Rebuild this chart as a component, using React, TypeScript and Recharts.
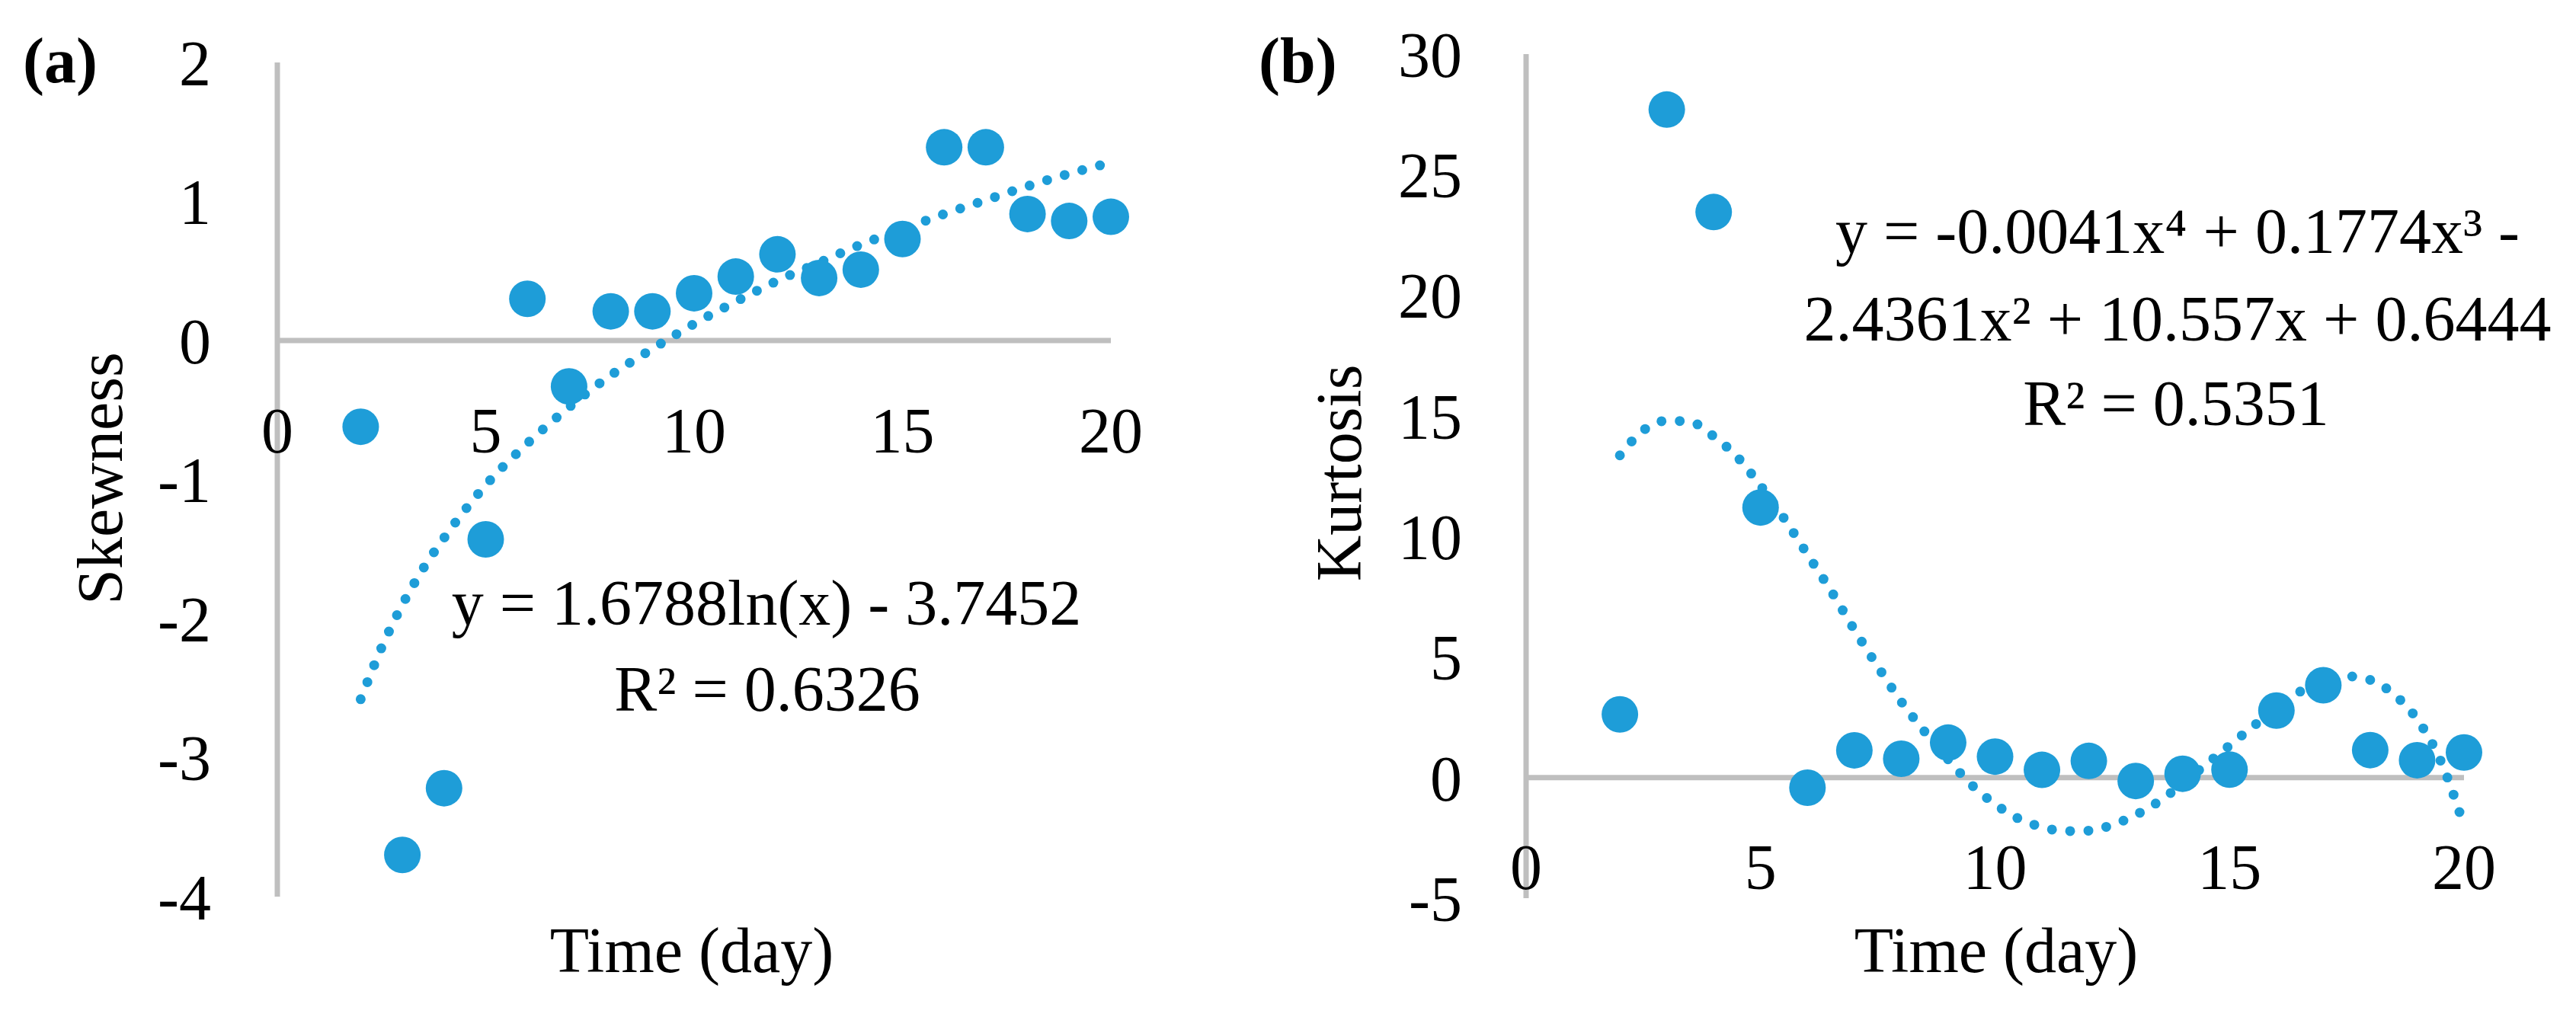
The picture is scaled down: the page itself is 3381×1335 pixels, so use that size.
import React from 'react';
import { ComposedChart, Scatter, Line, XAxis, YAxis, ReferenceLine } from 'recharts';

// measured days (x) shared by both panels
const days = [2, 3, 4, 5, 6, 7, 8, 9, 10, 11, 12, 13, 14, 15, 16, 17, 18, 19, 20];

// panel (a) skewness values
const skewness = [-0.62, -3.7, -3.22, -1.43, 0.3, -0.33, 0.21, 0.21, 0.34, 0.46, 0.62, 0.45, 0.51, 0.73, 1.39, 1.39, 0.91, 0.86, 0.89];

// panel (b) kurtosis values
const kurtosis = [2.62, 27.7, 23.45, 11.2, -0.42, 1.13, 0.78, 1.45, 0.87, 0.32, 0.69, -0.14, 0.16, 0.33, 2.78, 3.83, 1.14, 0.72, 1.04];

// dotted trend lines
const skewTrendX = [2, 2.5, 3, 3.5, 4, 4.5, 5, 6, 7, 8, 9, 10, 11, 12, 13, 14, 15, 16, 17, 18, 19, 20];
const skewTrendY = [-2.58, -2.21, -1.9, -1.64, -1.42, -1.22, -1.04, -0.74, -0.48, -0.25, -0.06, 0.12, 0.28, 0.43, 0.56, 0.69, 0.8, 0.91, 1.01, 1.11, 1.2, 1.28];

const kurtTrendX = [2, 2.5, 3, 3.5, 4, 4.5, 5, 5.5, 6, 6.5, 7, 7.5, 8, 8.5, 9, 9.5, 10, 10.5, 11, 11.5, 12, 12.5, 13, 13.5, 14, 14.5, 15, 15.5, 16, 16.5, 17, 17.5, 18, 18.5, 19, 19.5, 20];
const kurtTrendY = [13.36, 14.4, 14.8, 14.75, 14.15, 13.3, 12.1, 10.75, 9.25, 7.75, 6.13, 4.6, 3.15, 1.9, 0.75, -0.3, -1.1, -1.7, -2.05, -2.22, -2.2, -1.96, -1.55, -0.98, -0.25, 0.55, 1.33, 2.12, 2.85, 3.56, 3.98, 4.2, 4.05, 3.46, 2.42, 0.7, -2.0];

const xTicks = [0, 5, 10, 15, 20];
const skewTicks = [-4, -3, -2, -1, 0, 1, 2];
const kurtTicks = [-5, 0, 5, 10, 15, 20, 25, 30];

const FONT = "'Liberation Serif', 'Times New Roman', serif";
const FS = 84;
const BLUE = '#1E9DD8';
const GREY = '#BFBFBF';

const skewPoints = days.map((d, i) => ({ x: d, y: skewness[i] }));
const kurtPoints = days.map((d, i) => ({ x: d, y: kurtosis[i] }));
const skewTrend = skewTrendX.map((d, i) => ({ x: d, y: skewTrendY[i] }));
const kurtTrend = kurtTrendX.map((d, i) => ({ x: d, y: kurtTrendY[i] }));

function Marker(props: any) {
    return <circle cx={props.cx} cy={props.cy} r={24} fill={BLUE} />;
}

// x labels sit just under the zero line, not at the bottom of the plot
const xTick = (offset: number) => (p: any) => (
    <text x={p.x} y={p.y + offset} textAnchor="middle" fontFamily={FONT} fontSize={FS} fill="#000">
        {p.payload.value}
    </text>
);

const yTickStyle = { fontFamily: FONT, fontSize: FS, fill: '#000' };

export default function App() {
    return (
        <div style={{ position: 'absolute', left: 0, top: 0, width: 3381, height: 1335, background: '#fff' }}>
            <div style={{ position: 'absolute', left: 0, top: 0 }}>
                <ComposedChart width={1690} height={1335} margin={{ top: 82, right: 232, bottom: 157, left: 0 }}>
                    <XAxis type="number" dataKey="x" domain={[0, 20]} ticks={xTicks} interval={0}
                        axisLine={false} tickLine={false} tickSize={0} tickMargin={0} height={1} tick={xTick(-583)} />
                    <YAxis type="number" dataKey="y" domain={[-4, 2]} ticks={skewTicks} interval={0} width={364}
                        axisLine={{ stroke: GREY, strokeWidth: 7 }} tickLine={false} tickSize={0} tickMargin={87} tick={yTickStyle} />
                    <ReferenceLine y={0} stroke={GREY} strokeWidth={7} />
                    <Line data={skewTrend} dataKey="y" type="monotone" stroke={BLUE} strokeWidth={13}
                        strokeDasharray="0 24" strokeLinecap="round" dot={false} activeDot={false} isAnimationActive={false} />
                    <Scatter data={skewPoints} dataKey="y" fill={BLUE} shape={Marker} isAnimationActive={false} />
                </ComposedChart>
            </div>
            <div style={{ position: 'absolute', left: 1690, top: 0 }}>
                <ComposedChart width={1691} height={1335} margin={{ top: 71, right: 147, bottom: 155, left: 0 }}>
                    <XAxis type="number" dataKey="x" domain={[0, 20]} ticks={xTicks} interval={0}
                        axisLine={false} tickLine={false} tickSize={0} tickMargin={0} height={1} tick={xTick(-12)} />
                    <YAxis type="number" dataKey="y" domain={[-5, 30]} ticks={kurtTicks} interval={0} width={313}
                        axisLine={{ stroke: GREY, strokeWidth: 7 }} tickLine={false} tickSize={0} tickMargin={84} tick={yTickStyle} />
                    <ReferenceLine y={0} stroke={GREY} strokeWidth={7} />
                    <Line data={kurtTrend} dataKey="y" type="monotone" stroke={BLUE} strokeWidth={13}
                        strokeDasharray="0 24" strokeLinecap="round" dot={false} activeDot={false} isAnimationActive={false} />
                    <Scatter data={kurtPoints} dataKey="y" fill={BLUE} shape={Marker} isAnimationActive={false} />
                </ComposedChart>
            </div>
            <svg width={3381} height={1335} style={{ position: 'absolute', left: 0, top: 0, pointerEvents: 'none' }}
                fontFamily={FONT} fontSize={FS} fill="#000">
                <text x={30} y={108} fontWeight="bold">(a)</text>
                <text x={1652} y={108} fontWeight="bold">(b)</text>
                <text transform="translate(160,628) rotate(-90)" textAnchor="middle">Skewness</text>
                <text transform="translate(1786,621) rotate(-90)" textAnchor="middle">Kurtosis</text>
                <text x={908} y={1276} textAnchor="middle">Time (day)</text>
                <text x={2620} y={1276} textAnchor="middle">Time (day)</text>
                <text x={1006} y={820} textAnchor="middle">y = 1.6788ln(x) - 3.7452</text>
                <text x={1007} y={933} textAnchor="middle">R² = 0.6326</text>
                <text x={2858} y={332} textAnchor="middle">y = -0.0041x⁴ + 0.1774x³ -</text>
                <text x={2858} y={447} textAnchor="middle">2.4361x² + 10.557x + 0.6444</text>
                <text x={2856} y={558} textAnchor="middle">R² = 0.5351</text>
            </svg>
        </div>
    );
}
